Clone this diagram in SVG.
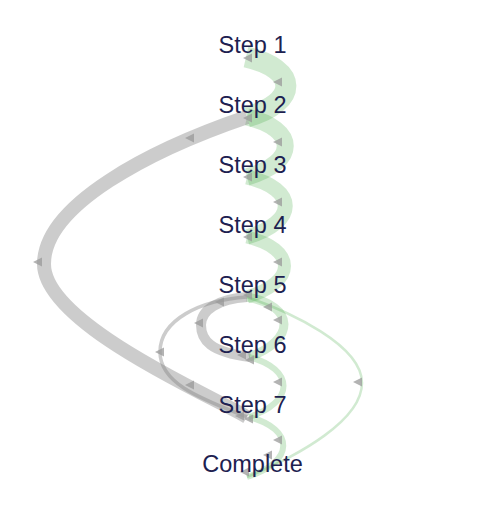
<svg xmlns="http://www.w3.org/2000/svg" width="489" height="505" viewBox="0 0 489 505">
<style>
.fwd{fill:none;stroke:rgb(44,160,44);stroke-opacity:0.22}
.back{fill:none;stroke:#808080;stroke-opacity:0.4}
.arr{fill:#999;fill-opacity:0.75}
.label{font-family:"Liberation Sans",Arial,sans-serif;font-size:23.5px;fill:#1d2150;text-anchor:middle}
</style>
<defs>
<path id="ah" d="M-5,0 L4,-4.5 L4,4.5 Z"/>
</defs>
<rect width="489" height="505" fill="#fff"/>
<g id="connectors">
<path class="fwd" stroke-width="21" d="M246,57 C299,69 299,102 247,117"/>
<path class="fwd" stroke-width="17" d="M247,117 C298,129 298,162 247,177"/>
<path class="fwd" stroke-width="15" d="M247,177 C298,189 298,222 247,237"/>
<path class="fwd" stroke-width="13" d="M247,237 C297,249 297,282 247,297"/>
<path class="fwd" stroke-width="9" d="M247,297 C296,306 296,340 249,357"/>
<path class="fwd" stroke-width="6" d="M249,357 C295,369 295,402 249,417"/>
<path class="fwd" stroke-width="6" d="M249,417 C295,429 295,462 247,477"/>
<path class="fwd" stroke-width="2.5" d="M247,297 C290,312 362,345 362,383 C362,420 300,455 247,477"/>
<path class="back" stroke-width="14" d="M247,417 C220,400 44,325 44,264 C44,205 150,150 247,117"/>
<path class="back" stroke-width="10" d="M250,357 C210,352 201,340 201,325 C201,310 218,299 247,297"/>
<path class="back" stroke-width="3.5" d="M247,417 C205,400 160,385 160,352 C160,320 200,300 247,297"/>
<g class="arr">
<use href="#ah" x="248" y="58"/>
<use href="#ah" x="278" y="82"/>
<use href="#ah" x="248" y="118"/>
<use href="#ah" x="190" y="138"/>
<use href="#ah" x="278" y="142"/>
<use href="#ah" x="248" y="177"/>
<use href="#ah" x="278" y="202"/>
<use href="#ah" x="248" y="237"/>
<use href="#ah" x="38" y="262"/>
<use href="#ah" x="278" y="262"/>
<use href="#ah" x="248" y="295"/>
<use href="#ah" x="220" y="302"/>
<use href="#ah" x="268" y="307"/>
<use href="#ah" x="278" y="320"/>
<use href="#ah" x="199" y="323"/>
<use href="#ah" x="160" y="352"/>
<use href="#ah" x="242" y="355"/>
<use href="#ah" x="250" y="360"/>
<use href="#ah" x="278" y="382"/>
<use href="#ah" x="358" y="382"/>
<use href="#ah" x="190" y="385"/>
<use href="#ah" x="240" y="416"/>
<use href="#ah" x="249" y="419"/>
<use href="#ah" x="278" y="440"/>
<use href="#ah" x="268" y="455"/>
<use href="#ah" x="245" y="472"/>
</g>
</g>
<g id="node-step1"><text class="label" x="252.5" y="53">Step 1</text></g>
<g id="node-step2"><text class="label" x="252.5" y="113">Step 2</text></g>
<g id="node-step3"><text class="label" x="252.5" y="173">Step 3</text></g>
<g id="node-step4"><text class="label" x="252.5" y="233">Step 4</text></g>
<g id="node-step5"><text class="label" x="252.5" y="293">Step 5</text></g>
<g id="node-step6"><text class="label" x="252.5" y="353">Step 6</text></g>
<g id="node-step7"><text class="label" x="252.5" y="413">Step 7</text></g>
<g id="node-complete"><text class="label" x="252.5" y="472">Complete</text></g>
</svg>
